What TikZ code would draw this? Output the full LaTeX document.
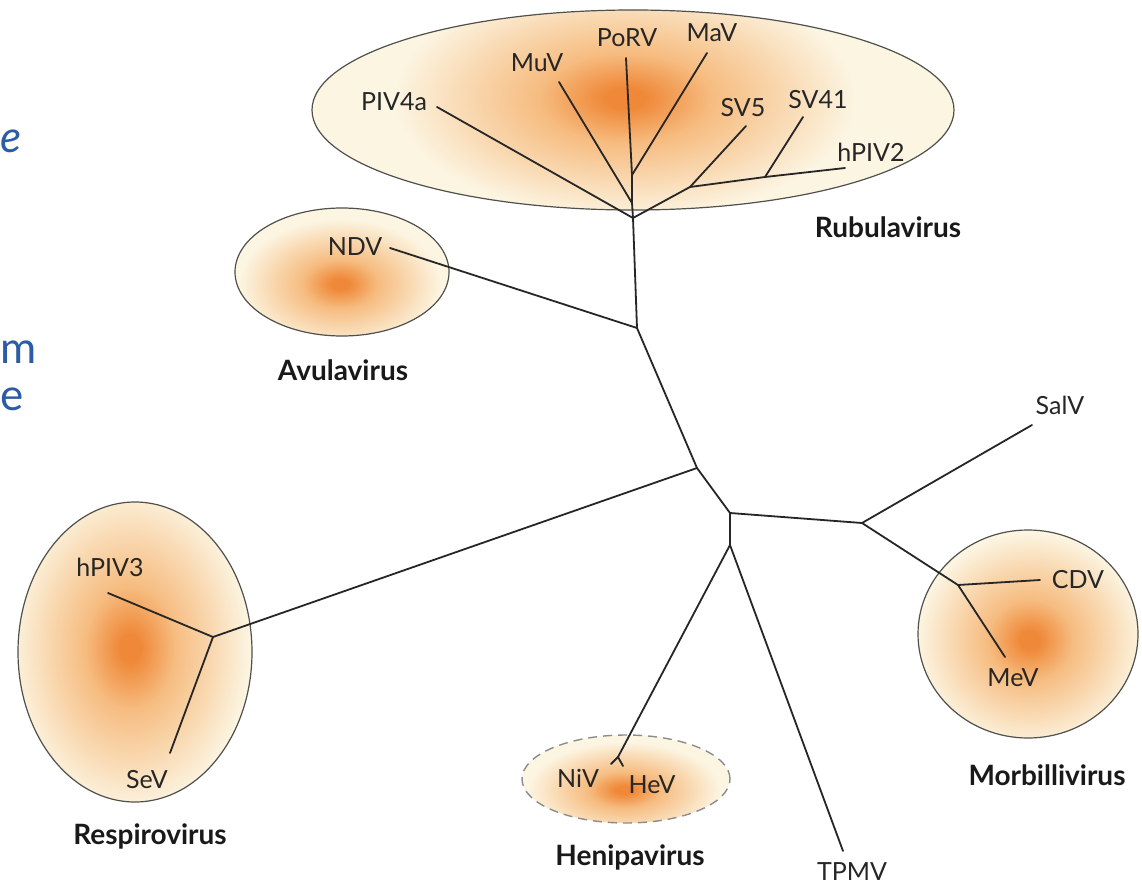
\documentclass[tikz,border=0pt]{standalone}
\usepackage{fontspec}
\setmainfont{Lato}
\definecolor{blobcore}{RGB}{239,136,56}
\definecolor{blobmid}{RGB}{246,188,128}
\definecolor{blobrim}{RGB}{252,245,226}
\definecolor{rimline}{RGB}{80,80,76}
\definecolor{slideblue}{RGB}{44,92,166}
\pgfdeclareradialshading{blob}{\pgfpoint{0bp}{0bp}}{color(0bp)=(blobcore); color(2bp)=(blobcore); color(9bp)=(blobmid); color(24bp)=(blobrim); color(50bp)=(blobrim)}

\tikzstyle{leaf} = [inner sep=1pt,text=black!85,font=\fontsize{25}{28}\selectfont]
\tikzstyle{genus} = [inner sep=1pt,text=black!90,font=\fontsize{28}{30}\selectfont\bfseries]
\tikzstyle{branch} = [line width=1.8pt,black!85,line cap=round,line join=round]
\tikzstyle{rim} = [line width=1.2pt,rimline]
\tikzstyle{slide} = [inner sep=0pt,text=slideblue,font=\fontsize{44}{48}\selectfont]

\begin{document}
\begin{tikzpicture}[x=1pt,y=-1pt]
	\useasboundingbox (0,0) rectangle (1142,885);
	\fill[white] (0,0) rectangle (1142,885);

	% cropped slide text at the left edge
	\node[slide,anchor=base west,font=\fontsize{44}{48}\selectfont\itshape] (s1) at (0.5,153) {e};
	\node[slide,anchor=base west] (s2) at (0.5,363) {m};
	\node[slide,anchor=base west] (s3) at (0.5,410) {e};

	% genus clouds
	\begin{scope}
		\clip (633,110) ellipse [x radius=321pt,y radius=100pt];
		\fill[blobrim] (633,110) ellipse [x radius=321pt,y radius=100pt];
		\shade[shading=blob] (625,98) ellipse [x radius=240pt,y radius=125pt];
	\end{scope}
	\draw[rim] (633,110) ellipse [x radius=321pt,y radius=100pt];

	\begin{scope}
		\clip (342,272) ellipse [x radius=107pt,y radius=64pt];
		\fill[blobrim] (342,272) ellipse [x radius=107pt,y radius=64pt];
		\shade[shading=blob] (340,284) ellipse [x radius=105pt,y radius=68pt];
	\end{scope}
	\draw[rim] (342,272) ellipse [x radius=107pt,y radius=64pt];

	\begin{scope}
		\clip (135,652) ellipse [x radius=117pt,y radius=150pt];
		\fill[blobrim] (135,652) ellipse [x radius=117pt,y radius=150pt];
		\shade[shading=blob] (130,648) ellipse [x radius=125pt,y radius=170pt];
	\end{scope}
	\draw[rim] (135,652) ellipse [x radius=117pt,y radius=150pt];

	\begin{scope}
		\clip (1028,634) ellipse [x radius=110pt,y radius=104pt];
		\fill[blobrim] (1028,634) ellipse [x radius=110pt,y radius=104pt];
		\shade[shading=blob] (1030,640) ellipse [x radius=118pt,y radius=112pt];
	\end{scope}
	\draw[rim] (1028,634) ellipse [x radius=110pt,y radius=104pt];

	\begin{scope}
		\clip (626,779) ellipse [x radius=104pt,y radius=44pt];
		\fill[blobrim] (626,779) ellipse [x radius=104pt,y radius=44pt];
		\shade[shading=blob] (624,790) ellipse [x radius=100pt,y radius=50pt];
	\end{scope}
	\draw[rim,black!45,line width=1.4pt,dash pattern=on 9pt off 6pt] (626,779) ellipse [x radius=104pt,y radius=44pt];

	% inner junctions
	\coordinate (hubR) at (633,218);
	\coordinate (jPo) at (632,203);
	\coordinate (jMa) at (632,175);
	\coordinate (jSV) at (690,187);
	\coordinate (jS41) at (765,177);
	\coordinate (jNDV) at (637,328);
	\coordinate (jC) at (697,468);
	\coordinate (jResp) at (213,637);
	\coordinate (jD) at (730,513);
	\coordinate (jE) at (862,523);
	\coordinate (jMorb) at (958,585);
	\coordinate (jF) at (730,545);
	\coordinate (jHen) at (618,757);

	% branch tips
	\coordinate (tPIV4a) at (437,107);
	\coordinate (tMuV) at (559,82);
	\coordinate (tPoRV) at (626,58);
	\coordinate (tMaV) at (707,53);
	\coordinate (tSV5) at (746,126);
	\coordinate (tSV41) at (803,117);
	\coordinate (tPIV2) at (845,168);
	\coordinate (tNDV) at (390,248);
	\coordinate (tPIV3) at (108,593);
	\coordinate (tSeV) at (170,753);
	\coordinate (tNiV) at (611,764);
	\coordinate (tHeV) at (623,766);
	\coordinate (tTPMV) at (843,851);
	\coordinate (tSalV) at (1032,425);
	\coordinate (tCDV) at (1040,580);
	\coordinate (tMeV) at (1005,657);

	% labels
	\node[leaf] (PIV4a) at (394,102) {PIV4a};
	\node[leaf] (MuV) at (537,63) {MuV};
	\node[leaf] (PoRV) at (627,38) {PoRV};
	\node[leaf] (MaV) at (712,33) {MaV};
	\node[leaf] (SV5) at (743,108) {SV5};
	\node[leaf] (SV41) at (818,100) {SV41};
	\node[leaf] (hPIV2) at (871,152) {hPIV2};
	\node[leaf] (NDV) at (355,247) {NDV};
	\node[leaf] (hPIV3) at (110,567) {hPIV3};
	\node[leaf] (SeV) at (147,780) {SeV};
	\node[leaf] (NiV) at (578,778) {NiV};
	\node[leaf] (HeV) at (652,785) {HeV};
	\node[leaf] (TPMV) at (852,872) {TPMV};
	\node[leaf] (SalV) at (1060,405) {SalV};
	\node[leaf] (CDV) at (1078,580) {CDV};
	\node[leaf] (MeV) at (1013,678) {MeV};

	\node[genus] (rubula) at (888,227) {Rubulavirus};
	\node[genus] (avula) at (343,370) {Avulavirus};
	\node[genus] (respiro) at (150,836) {Respirovirus};
	\node[genus] (henipa) at (630,857) {Henipavirus};
	\node[genus] (morbilli) at (1047,775) {Morbillivirus};

	% tree
	\draw[branch] (tPoRV) -- (jMa);
	\draw[branch] (tMaV) -- (jMa);
	\draw[branch] (jMa) -- (jPo);
	\draw[branch] (tMuV) -- (jPo);
	\draw[branch] (jPo) -- (hubR);
	\draw[branch] (tPIV4a) -- (hubR);
	\draw[branch] (tSV5) -- (jSV);
	\draw[branch] (tSV41) -- (jS41);
	\draw[branch] (tPIV2) -- (jS41) -- (jSV);
	\draw[branch] (jSV) -- (hubR);
	\draw[branch] (hubR) -- (jNDV);
	\draw[branch] (tNDV) -- (jNDV);
	\draw[branch] (jNDV) -- (jC);
	\draw[branch] (jC) -- (jResp);
	\draw[branch] (tPIV3) -- (jResp);
	\draw[branch] (tSeV) -- (jResp);
	\draw[branch] (jC) -- (jD);
	\draw[branch] (jD) -- (jE);
	\draw[branch] (jE) -- (tSalV);
	\draw[branch] (jE) -- (jMorb);
	\draw[branch] (jMorb) -- (tCDV);
	\draw[branch] (jMorb) -- (tMeV);
	\draw[branch] (jD) -- (jF);
	\draw[branch] (jF) -- (jHen);
	\draw[branch] (jHen) -- (tNiV);
	\draw[branch] (jHen) -- (tHeV);
	\draw[branch] (jF) -- (tTPMV);
\end{tikzpicture}
\end{document}
